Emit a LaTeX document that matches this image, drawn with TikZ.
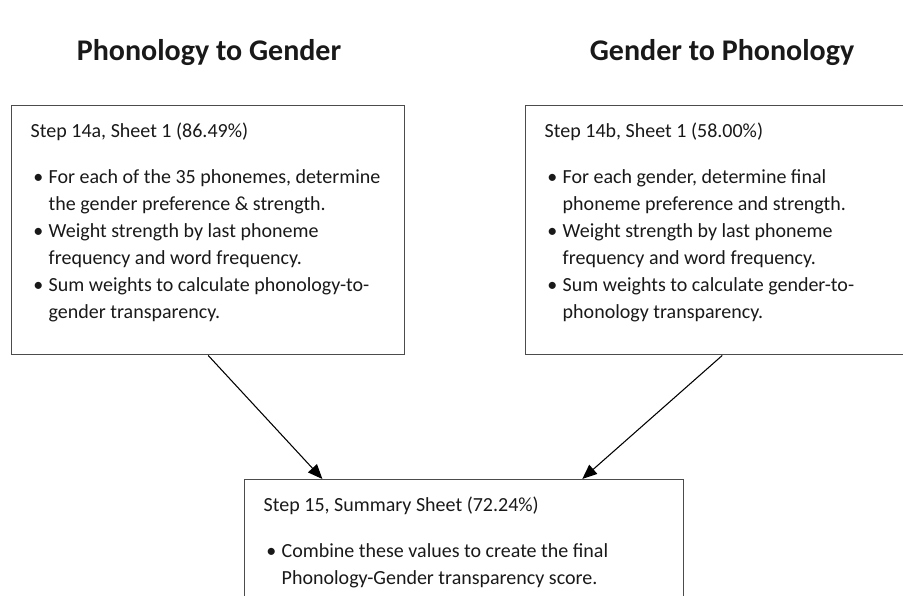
\documentclass[tikz,border=0pt]{standalone}
\usepackage{fontspec}
\setmainfont{Carlito}
\usetikzlibrary{arrows.meta,calc}

\newcommand{\bpoint}[1]{\par\hangindent=13.5pt\hangafter=1\noindent\makebox[13.5pt][l]{\hspace{2pt}\textbullet}#1}
\newcommand{\sheettext}[3]{\parbox[t][#1][t]{#2}{\rule{0pt}{24pt}#3}}

\tikzset{
  stepbox/.style={draw=black!70, line width=1.1pt, inner xsep=14.25pt, inner ysep=0pt, anchor=north west,
    font=\fontsize{15pt}{20.25pt}\selectfont, text=black!90},
  heading/.style={font=\bfseries\fontsize{22.5pt}{27pt}\selectfont, anchor=base, text=black!90},
  flow/.style={-{Triangle[length=11pt,width=9pt]}, line width=0.8pt}
}

\begin{document}
\begin{tikzpicture}[x=0.75pt, y=-0.75pt]
  \useasboundingbox (0,0) rectangle (903,596);
  \clip (0,0) rectangle (903,596);
  \node[heading] (titleA) at (209,60) {Phonology to Gender};
  \node[heading] (titleB) at (722,60) {Gender to Phonology};
  % Step 14a
  \node[stepbox] (sheetA) at (11,105) {\sheettext{186.75pt}{266.25pt}{Step 14a, Sheet 1 (86.49\%)\par\vspace{14.25pt}
    \bpoint{For each of the 35 phonemes, determine\newline the gender preference \& strength.}
    \bpoint{Weight strength by last phoneme\newline frequency and word frequency.}
    \bpoint{Sum weights to calculate phonology-to-\newline gender transparency.}}};
  % Step 14b
  \node[stepbox] (sheetB) at (525,105) {\sheettext{186.75pt}{266.25pt}{Step 14b, Sheet 1 (58.00\%)\par\vspace{14.25pt}
    \bpoint{For each gender, determine final\newline phoneme preference and strength.}
    \bpoint{Weight strength by last phoneme\newline frequency and word frequency.}
    \bpoint{Sum weights to calculate gender-to-\newline phonology transparency.}}};
  % Step 15
  \node[stepbox] (sheetC) at (244,479) {\sheettext{112.5pt}{300.75pt}{Step 15, Summary Sheet (72.24\%)\par\vspace{14.25pt}
    \bpoint{Combine these values to create the final\newline Phonology-Gender transparency score.}}};
  \draw[flow] (sheetA.south) -- ($(sheetC.north west)!0.178!(sheetC.north east)$);
  \draw[flow] (sheetB.south) -- ($(sheetC.north west)!0.768!(sheetC.north east)$);
\end{tikzpicture}
\end{document}
